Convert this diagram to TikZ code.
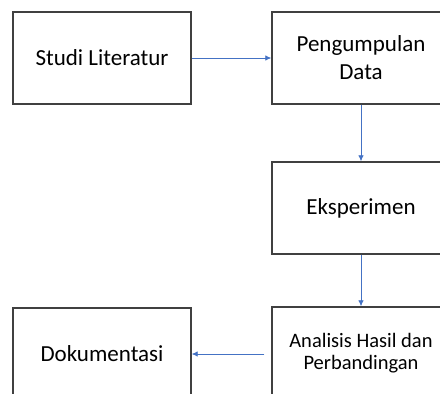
\documentclass[tikz,border=0pt]{standalone}
\usepackage{fontspec}
\setmainfont{Carlito}
\usetikzlibrary{arrows.meta}
\definecolor{boxgray}{HTML}{404040}
\definecolor{arrblue}{HTML}{4472C4}
\begin{document}
\begin{tikzpicture}[x=1pt,y=-1pt,
  stepbox/.style={draw=boxgray,line width=1.4pt,fill=white,minimum width=178pt,minimum height=92pt,
    align=center,inner sep=0pt,font=\fontsize{23}{28}\selectfont},
  smallbox/.style={stepbox,font=\fontsize{20.5}{22.5}\selectfont},
  flow/.style={draw=arrblue,line width=0.8pt,-{Latex[length=6pt,width=5.5pt]}}]
\useasboundingbox (0,0) rectangle (440,394);
\clip (0,0) rectangle (440,394);
\fill[white] (0,0) rectangle (440,394);
\node[stepbox] (lit) at (102,58) {Studi Literatur};
\node[stepbox] (data) at (361,58) {Pengumpulan\\Data};
\node[stepbox] (eks) at (361,208) {Eksperimen};
\node[smallbox] (ana) at (361,353) {Analisis Hasil dan\\Perbandingan};
\node[stepbox] (dok) at (102,354) {Dokumentasi};
\draw[flow] (lit.east) -- (data.west);
\draw[flow] (data.south) -- (eks.north);
\draw[flow] (eks.south) -- (ana.north);
\draw[flow,shorten <=7pt] (ana.west |- dok.east) -- (dok.east);
\end{tikzpicture}
\end{document}
